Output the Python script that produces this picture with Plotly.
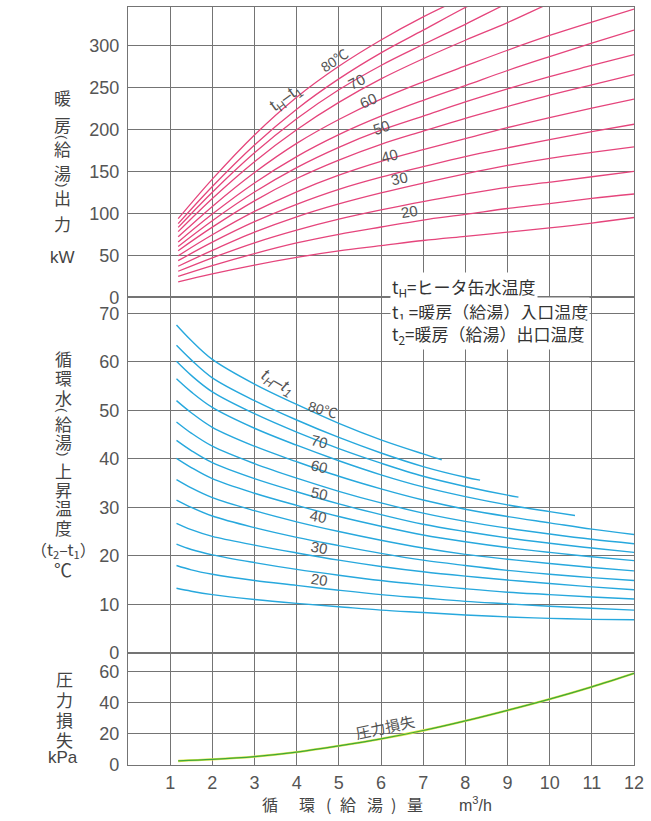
import plotly.graph_objects as go
from plotly.subplots import make_subplots

# ---------------- data ----------------
temps = [80, 75, 70, 65, 60, 55, 50, 45, 40, 35, 30, 25, 20, 15]

# heating (hot-water) output, kW  (top panel)
flow_top = [1.19, 2, 3, 4, 5, 6, 7, 8, 9, 10, 11, 12]
out_80 = [93.6, 140.7, 193.3, 238.2, 275.0, 306.3, 333.8, 358.0]
out_75 = [87.7, 131.9, 181.4, 224.0, 260.0, 291.0, 318.0, 345.0, 370.0]
out_70 = [83.2, 125.1, 172.0, 212.5, 247.0, 276.0, 301.0, 325.0, 350.0, 373.0]
out_65 = [78.2, 117.7, 161.5, 199.5, 232.0, 260.0, 284.0, 306.0, 327.0, 350.0, 372.0]
out_60 = [72.0, 108.2, 148.6, 183.3, 211.7, 235.9, 256.4, 275.4, 294.1, 311.7, 327.7, 343.0]
out_55 = [65.9, 99.1, 136.1, 167.5, 193.6, 215.6, 234.5, 252.1, 270.0, 286.5, 302.5, 318.0]
out_50 = [60.6, 91.2, 125.3, 154.4, 178.5, 198.9, 215.7, 232.6, 248.1, 262.8, 276.0, 289.0]
out_45 = [55.5, 83.5, 114.8, 141.4, 163.4, 182.1, 197.8, 213.1, 227.1, 240.7, 253.0, 265.0]
out_40 = [49.4, 74.4, 102.2, 125.6, 145.4, 161.9, 175.8, 188.9, 202.0, 214.0, 225.3, 236.0]
out_35 = [43.6, 65.6, 90.0, 110.7, 128.5, 143.0, 155.5, 167.5, 177.9, 187.8, 197.2, 206.0]
out_30 = [37.0, 55.8, 77.5, 95.8, 111.1, 124.2, 136.0, 147.0, 157.0, 165.5, 172.5, 179.0]
out_25 = [31.0, 47.0, 64.9, 80.0, 93.0, 104.0, 114.0, 122.8, 130.8, 137.0, 143.5, 150.0]
out_20 = [24.9, 37.7, 52.0, 64.7, 75.0, 83.7, 92.0, 98.6, 105.7, 111.6, 117.7, 123.0]
out_15 = [18.4, 27.9, 38.4, 47.5, 55.2, 61.4, 67.6, 72.6, 77.5, 82.6, 88.3, 95.0]
outputs = [out_80, out_75, out_70, out_65, out_60, out_55, out_50,
           out_45, out_40, out_35, out_30, out_25, out_20, out_15]

# circulating water temperature rise, degC (middle panel)
flow_mid = [1.15, 1.5, 2, 3, 4, 5, 6, 7, 8, 9, 10, 11, 12]
flow_80 = [1.15, 1.5, 2, 3, 4, 5, 6, 7, 7.44]
flow_75 = [1.15, 1.5, 2, 3, 4, 5, 6, 7, 8, 8.35]
flow_70 = [1.15, 1.5, 2, 3, 4, 5, 6, 7, 8, 9, 9.26]
flow_65 = [1.15, 1.5, 2, 3, 4, 5, 6, 7, 8, 9, 10, 10.6]
rise_80 = [67.6, 64.4, 60.5, 55.4, 51.2, 47.3, 43.9, 41.0, 39.8]
rise_75 = [63.4, 60.4, 56.7, 52.0, 48.0, 44.4, 41.2, 38.4, 36.2, 35.6]
rise_70 = [60.1, 57.2, 53.8, 49.3, 45.5, 42.1, 39.1, 36.4, 34.3, 32.5, 32.1]
rise_65 = [56.5, 53.8, 50.6, 46.3, 42.8, 39.6, 36.7, 34.2, 32.2, 30.5, 29.1, 28.3]
rise_60 = [52.0, 49.5, 46.5, 42.6, 39.4, 36.4, 33.8, 31.5, 29.6, 28.1, 26.8, 25.5, 24.4]
rise_55 = [47.6, 45.3, 42.6, 39.0, 36.0, 33.3, 30.9, 28.8, 27.1, 25.7, 24.5, 23.4, 22.5]
rise_50 = [43.8, 41.7, 39.2, 35.9, 33.2, 30.7, 28.5, 26.5, 25.0, 23.7, 22.6, 21.6, 20.7]
rise_45 = [40.1, 38.2, 35.9, 32.9, 30.4, 28.1, 26.1, 24.3, 22.9, 21.7, 20.7, 19.8, 19.0]
rise_40 = [35.7, 34.0, 32.0, 29.3, 27.0, 25.0, 23.2, 21.6, 20.3, 19.3, 18.4, 17.6, 16.9]
rise_35 = [31.5, 30.0, 28.2, 25.8, 23.8, 22.1, 20.5, 19.1, 18.0, 17.0, 16.2, 15.5, 14.9]
rise_30 = [26.7, 25.4, 24.0, 22.2, 20.6, 19.1, 17.8, 16.7, 15.8, 15.0, 14.3, 13.6, 13.0]
rise_25 = [22.4, 21.3, 20.2, 18.6, 17.2, 16.0, 14.9, 14.0, 13.2, 12.5, 12.0, 11.5, 11.1]
rise_20 = [18.0, 17.1, 16.2, 14.9, 13.9, 12.9, 12.0, 11.3, 10.6, 10.1, 9.6, 9.2, 8.8]
rise_15 = [13.3, 12.7, 12.0, 11.0, 10.2, 9.5, 8.8, 8.3, 7.8, 7.4, 7.1, 6.9, 6.8]
rises = [(flow_80, rise_80), (flow_75, rise_75), (flow_70, rise_70), (flow_65, rise_65),
         (flow_mid, rise_60), (flow_mid, rise_55), (flow_mid, rise_50), (flow_mid, rise_45),
         (flow_mid, rise_40), (flow_mid, rise_35), (flow_mid, rise_30), (flow_mid, rise_25),
         (flow_mid, rise_20), (flow_mid, rise_15)]

# pressure loss, kPa (bottom panel)
flow_dp = [1.19, 2, 3, 4, 5, 6, 7, 8, 9, 10, 11, 12]
press_loss = [2.6, 3.6, 5.4, 8.3, 12.3, 16.8, 22.2, 28.4, 35.2, 42.4, 50.3, 59.0]

x_ticks = list(range(1, 13))
top_ticks = [0, 50, 100, 150, 200, 250, 300]
mid_ticks = [0, 10, 20, 30, 40, 50, 60, 70]
bot_ticks = [0, 20, 40, 60]

# ---------------- styling ----------------
PINK = "#e5457c"
BLUE = "#27a8dd"
GREEN = "#3fa83a"
GRID = "#747474"
TXT = "#555555"
FONT = "Liberation Sans, Arial, Noto Sans CJK JP"
JFONT = "Noto Sans CJK JP, Liberation Sans"

W, H = 651, 821
L, R, T, B = 128, 17, 7, 56
PW, PH = W - L - R, H - T - B
Y0 = H - B  # pixel of plot bottom


def px_x(px):
    return (px - L) / PW


def px_y(py):
    return (Y0 - py) / PH


fig = make_subplots(rows=3, cols=1, shared_xaxes=True, vertical_spacing=0)

for vals in outputs:
    fig.add_trace(go.Scatter(x=flow_top[:len(vals)], y=vals, mode="lines",
                             line=dict(color=PINK, width=1.3, shape="spline"),
                             hoverinfo="skip", showlegend=False), row=1, col=1)

for fx, vals in rises:
    fig.add_trace(go.Scatter(x=fx, y=vals, mode="lines",
                             line=dict(color=BLUE, width=1.4, shape="spline"),
                             hoverinfo="skip", showlegend=False), row=2, col=1)

fig.add_trace(go.Scatter(x=flow_dp, y=press_loss, mode="lines",
                         line=dict(color="#dfe64a", width=2.4, shape="spline"),
                         hoverinfo="skip", showlegend=False), row=3, col=1)
fig.add_trace(go.Scatter(x=flow_dp, y=press_loss, mode="lines",
                         line=dict(color=GREEN, width=1.2, shape="spline"),
                         hoverinfo="skip", showlegend=False), row=3, col=1)

top_dom = [px_y(297.3), 1]
mid_dom = [px_y(652.8), px_y(297.3)]
bot_dom = [0, px_y(652.8)]

axis_common = dict(showgrid=True, gridcolor=GRID, gridwidth=1.3, showline=True,
                   linecolor=GRID, linewidth=1.3, mirror=True, zeroline=False,
                   ticks="", tickfont=dict(family=FONT, size=18, color=TXT))

for i in (1, 2, 3):
    key = "xaxis" if i == 1 else f"xaxis{i}"
    fig.layout[key].update(range=[0, 12], tickvals=[0] + x_ticks, **axis_common)
    fig.layout[key].showticklabels = (i == 3)
fig.layout.xaxis3.update(tickvals=x_ticks, ticktext=[str(v) for v in x_ticks],
                         ticklabelstandoff=1)

fig.layout.yaxis.update(domain=top_dom, range=[0, 345.6], tickvals=top_ticks,
                        ticklabelstandoff=4, **axis_common)
fig.layout.yaxis2.update(domain=mid_dom, range=[0, 73.3], tickvals=mid_ticks,
                         ticklabelstandoff=4, **axis_common)
fig.layout.yaxis3.update(domain=bot_dom, range=[0, 72.2], tickvals=bot_ticks,
                         ticklabelstandoff=4, **axis_common)

ann = []


def lab(x, y, text, xref, yref, angle=0, size=15, color=TXT, family=FONT, **kw):
    d = dict(x=x, y=y, xref=xref, yref=yref, text=text, showarrow=False,
             textangle=angle, font=dict(family=family, size=size, color=color))
    d.update(kw)
    ann.append(d)


# curve labels, top panel
lab(3.77, 237, "t<sub>H</sub>–t<sub>1</sub>", "x", "y", -36, 17)
lab(4.92, 282, "80℃", "x", "y", -33, 14)
lab(5.42, 257.5, "70", "x", "y", -28, 15)
lab(5.70, 233.7, "60", "x", "y", -24, 15)
lab(6.00, 202.4, "50", "x", "y", -18, 15)
lab(6.21, 169.4, "40", "x", "y", -14, 15)
lab(6.43, 141.7, "30", "x", "y", -12, 15)
lab(6.67, 101.9, "20", "x", "y", -10, 15)

# curve labels, middle panel
lab(3.53, 55.6, "<i>t<sub>H</sub>–t<sub>1</sub></i>", "x2", "y2", 30, 17)
lab(4.63, 50.1, "80℃", "x2", "y2", 16, 14)
lab(4.54, 43.5, "70", "x2", "y2", 14, 15)
lab(4.54, 38.4, "60", "x2", "y2", 13, 15)
lab(4.54, 32.9, "50", "x2", "y2", 12, 15)
lab(4.52, 28.1, "40", "x2", "y2", 11, 15)
lab(4.54, 21.8, "30", "x2", "y2", 10, 15)
lab(4.54, 15.2, "20", "x2", "y2", 8, 15)

# bottom label
lab(6.1, 24.6, "圧力損失", "x3", "y3", -12, 15, family=JFONT)

# legend text block with white background
leg_lines = [("t<sub>H</sub>=ヒータ缶水温度", 287.5),
             ("t<sub>1</sub> =暖房（給湯）入口温度", 312.5),
             ("t<sub>2</sub>=暖房（給湯）出口温度", 334.5)]
for txt, py in leg_lines:
    lab(px_x(390), px_y(py), txt, "paper", "paper", 0, 17, color="#333333",
        family=JFONT, xanchor="left", yanchor="middle", bgcolor="white",
        borderpad=1)


# vertical axis titles
def vstack(items, xpx, size=17):
    for ch, py in items:
        if ch in ("(", ")"):
            lab(px_x(xpx), px_y(py), ch, "paper", "paper", 90, 13, color="#444444",
                family=FONT, xanchor="center", yanchor="middle")
        else:
            lab(px_x(xpx), px_y(py), ch, "paper", "paper", 0, size, color="#444444",
                family=JFONT, xanchor="center", yanchor="middle")


vstack([("暖", 98), ("房", 124), ("(", 137), ("給", 149), ("湯", 172), (")", 185),
        ("出", 198), ("力", 223)], 62)
lab(px_x(62), px_y(257), "kW", "paper", "paper", 0, 17, color="#444444",
    family=FONT, xanchor="center", yanchor="middle")

vstack([("循", 358), ("環", 378), ("水", 397), ("(", 410), ("給", 423), ("湯", 441),
        (")", 454), ("上", 470), ("昇", 490), ("温", 508), ("度", 527)], 63)
lab(px_x(63), px_y(549), "（t<sub>2</sub>–t<sub>1</sub>）", "paper", "paper", 0, 16,
    color="#444444", family=JFONT, xanchor="center", yanchor="middle")
lab(px_x(63), px_y(569), "℃", "paper", "paper", 0, 18, color="#444444",
    family=JFONT, xanchor="center", yanchor="middle")

vstack([("圧", 678), ("力", 699), ("損", 719), ("失", 739)], 64)
lab(px_x(63), px_y(757), "kPa", "paper", "paper", 0, 17, color="#444444",
    family=FONT, xanchor="center", yanchor="middle")

# x-axis title
for ch, xpx in [("循", 270), ("環", 307), ("(", 328), ("給", 348), ("湯", 375),
                (")", 393), ("量", 415)]:
    lab(px_x(xpx), px_y(804), ch, "paper", "paper", 0, 16, color="#444444",
        family=JFONT, xanchor="center", yanchor="middle")
lab(px_x(475), px_y(804), "m<sup>3</sup>/h", "paper", "paper", 0, 16,
    color="#444444", family=FONT, xanchor="center", yanchor="middle")

fig.update_layout(width=W, height=H, margin=dict(l=L, r=R, t=T, b=B),
                  paper_bgcolor="white", plot_bgcolor="white",
                  annotations=ann, showlegend=False)

fig.write_html("out.html", config={"displayModeBar": False},
               post_script="document.body.style.margin='0';document.body.style.padding='0';")
